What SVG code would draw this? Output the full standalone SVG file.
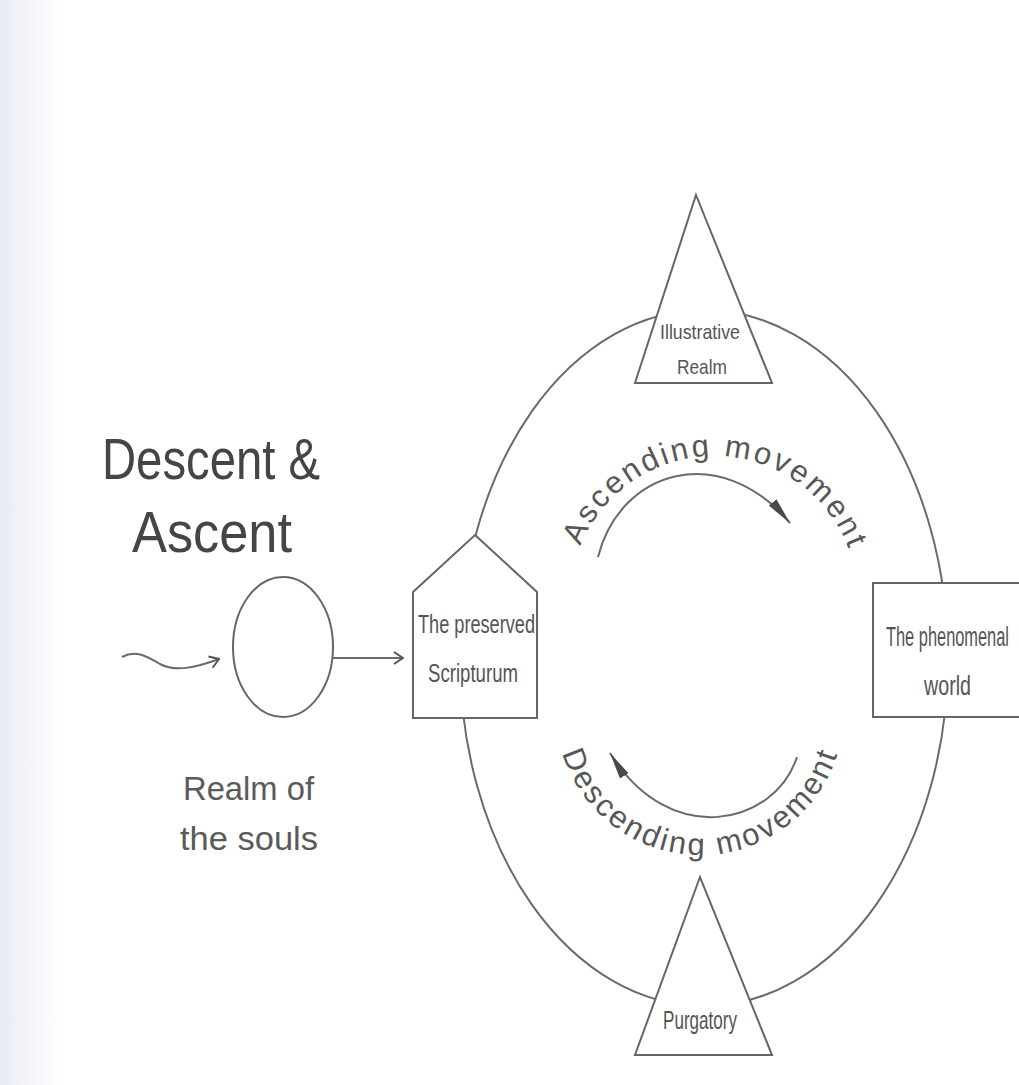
<svg xmlns="http://www.w3.org/2000/svg" width="1019" height="1085" viewBox="0 0 1019 1085">
<style>
  .ln { fill: none; stroke: #6b6b6b; stroke-width: 2; }
  .nd { fill: #ffffff; stroke: #666666; stroke-width: 2; }
  .tx { font-family: "Liberation Sans", Arial, sans-serif; fill: #555555; }
  .ttl { font-family: "Liberation Sans", Arial, sans-serif; fill: #454545; font-size: 57px; }
  .lbl { font-family: "Liberation Sans", Arial, sans-serif; fill: #5a5a5a; }
  .arc { font-family: "Liberation Sans", Arial, sans-serif; fill: #575757; font-size: 31px; }
</style>
<defs>
  <linearGradient id="bg" x1="0" y1="0" x2="1" y2="0">
    <stop offset="0" stop-color="#e8ecf3"/>
    <stop offset="0.03" stop-color="#f3f5f9"/>
    <stop offset="0.06" stop-color="#ffffff"/>
  </linearGradient>
  <marker id="open" markerWidth="12" markerHeight="14" refX="11" refY="7" orient="auto" markerUnits="userSpaceOnUse">
    <path d="M2,1 L11,7 L2,13" fill="none" stroke="#555" stroke-width="2"/>
  </marker>
  <marker id="solid" markerWidth="28" markerHeight="12" refX="27" refY="6" orient="auto" markerUnits="userSpaceOnUse">
    <path d="M0,1 L27,6 L0,11 Z" fill="#4a4a4a"/>
  </marker>
  <path id="ascPath" d="M574.9,562.7 A144,144 0 0 1 853.1,562.7"/>
  <path id="descPath" d="M560.9,748.3 A144,144 0 0 0 839.1,748.3"/>
</defs>
<rect x="0" y="0" width="1019" height="1085" fill="url(#bg)"/>

<g id="connectors">
  <ellipse class="ln" cx="704" cy="658" rx="244" ry="348"/>
  <path class="ln" d="M122,657 C135,650 145,655 160,664 C175,672 195,668 219,659" marker-end="url(#open)"/>
  <path class="ln" d="M333,658 L403,658" marker-end="url(#open)"/>
  <path class="ln" stroke="#4a4a4a" stroke-width="3" d="M598,557 C620,470 720,440 790,523" marker-end="url(#solid)"/>
  <path class="ln" stroke="#4a4a4a" stroke-width="3" d="M797,757 C775,825 670,850 610,753" marker-end="url(#solid)"/>
</g>

<g id="title">
  <text class="ttl" x="102" y="479" textLength="218" lengthAdjust="spacingAndGlyphs">Descent &amp;</text>
  <text class="ttl" x="132" y="552" textLength="160" lengthAdjust="spacingAndGlyphs">Ascent</text>
</g>

<g id="realm-of-souls">
  <ellipse class="nd" cx="283" cy="647" rx="50" ry="70"/>
  <text class="lbl" font-size="34" x="183" y="800" textLength="131" lengthAdjust="spacingAndGlyphs">Realm of</text>
  <text class="lbl" font-size="34" x="180" y="850" textLength="138" lengthAdjust="spacingAndGlyphs">the souls</text>
</g>

<g id="preserved-scripturum">
  <polygon class="nd" points="475,535 537,592 537,718 413,718 413,592"/>
  <text class="tx" font-size="25" x="418" y="633" textLength="117" lengthAdjust="spacingAndGlyphs">The preserved</text>
  <text class="tx" font-size="25" x="428" y="682" textLength="90" lengthAdjust="spacingAndGlyphs">Scripturum</text>
</g>

<g id="illustrative-realm">
  <polygon class="nd" points="696,195 772,383 635,383"/>
  <text class="tx" font-size="21" x="660" y="339" textLength="80" lengthAdjust="spacingAndGlyphs">Illustrative</text>
  <text class="tx" font-size="21" x="677" y="374" textLength="50" lengthAdjust="spacingAndGlyphs">Realm</text>
</g>

<g id="phenomenal-world">
  <path class="nd" d="M1019,583 H873 V717 H1019"/>
  <text class="tx" font-size="27" x="886" y="646" textLength="123" lengthAdjust="spacingAndGlyphs">The phenomenal</text>
  <text class="tx" font-size="27" x="924" y="695" textLength="47" lengthAdjust="spacingAndGlyphs">world</text>
</g>

<g id="purgatory">
  <polygon class="nd" points="700,877 772,1055 635,1055"/>
  <text class="tx" font-size="25" x="663" y="1029" textLength="74" lengthAdjust="spacingAndGlyphs">Purgatory</text>
</g>

<g id="movement-labels">
  <text class="arc"><textPath href="#ascPath" startOffset="17.6" textLength="344" lengthAdjust="spacing">Ascending movement</textPath></text>
  <text class="arc"><textPath href="#descPath" startOffset="5" textLength="365" lengthAdjust="spacing">Descending movement</textPath></text>
</g>
</svg>
